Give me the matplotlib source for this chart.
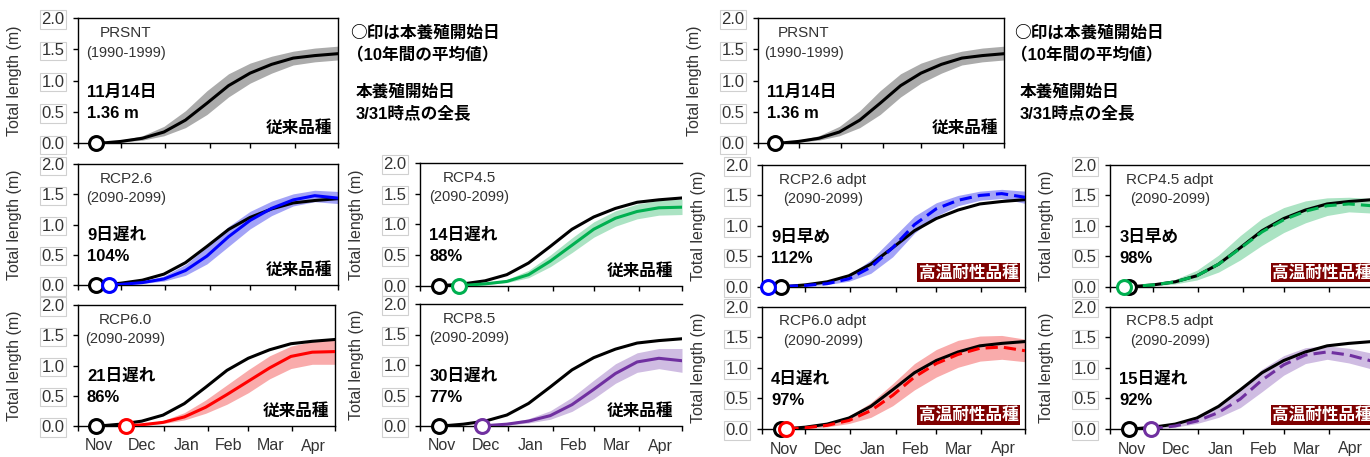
import matplotlib.pyplot as plt

# Fonts: Arial-like for latin, Noto CJK for Japanese
plt.rcParams['font.family'] = ['Liberation Sans', 'Noto Sans CJK JP']

W, H = 1370, 457

# Axis config (x = days from Nov 1)
month_edges = [0, 30, 61, 92, 120, 151, 181]
month_labels = ["Nov", "Dec", "Jan", "Feb", "Mar", "Apr"]
y_ticks = [0.0, 0.5, 1.0, 1.5, 2.0]

# Present climate (1990-1999), conventional variety
prsnt_day = [13, 20, 30, 45, 60, 75, 90, 105, 120, 135, 150, 165, 181]
prsnt_mean = [0.0, 0.01, 0.03, 0.08, 0.18, 0.37, 0.64, 0.92, 1.12, 1.26, 1.36, 1.40, 1.43]
prsnt_hi = [0.0, 0.015, 0.05, 0.12, 0.27, 0.52, 0.84, 1.11, 1.28, 1.39, 1.47, 1.52, 1.55]
prsnt_lo = [0.0, 0.005, 0.02, 0.05, 0.12, 0.25, 0.46, 0.74, 0.96, 1.12, 1.25, 1.30, 1.33]

# Future (2090-2099), conventional variety
rcp26_day = [22, 30, 45, 60, 75, 90, 105, 120, 135, 150, 165, 181]
rcp26_mean = [0.0, 0.01, 0.04, 0.10, 0.24, 0.48, 0.80, 1.07, 1.27, 1.41, 1.48, 1.44]
rcp26_hi = [0.0, 0.015, 0.06, 0.15, 0.34, 0.63, 0.97, 1.22, 1.39, 1.51, 1.57, 1.55]
rcp26_lo = [0.0, 0.005, 0.025, 0.065, 0.16, 0.35, 0.64, 0.93, 1.15, 1.31, 1.38, 1.35]

rcp45_day = [27, 30, 45, 60, 75, 90, 105, 120, 135, 150, 165, 181]
rcp45_mean = [0.0, 0.005, 0.03, 0.07, 0.18, 0.40, 0.66, 0.92, 1.10, 1.21, 1.27, 1.28]
rcp45_hi = [0.0, 0.01, 0.045, 0.10, 0.25, 0.50, 0.78, 1.04, 1.22, 1.33, 1.39, 1.41]
rcp45_lo = [0.0, 0.003, 0.02, 0.05, 0.13, 0.31, 0.54, 0.79, 0.97, 1.09, 1.15, 1.16]

rcp60_day = [34, 45, 60, 75, 90, 105, 120, 135, 150, 165, 181]
rcp60_mean = [0.0, 0.02, 0.06, 0.15, 0.31, 0.52, 0.74, 0.96, 1.15, 1.22, 1.23]
rcp60_hi = [0.0, 0.03, 0.09, 0.22, 0.43, 0.68, 0.93, 1.16, 1.32, 1.40, 1.43]
rcp60_lo = [0.0, 0.01, 0.04, 0.10, 0.21, 0.36, 0.55, 0.78, 0.95, 1.02, 1.02]

rcp85_day = [43, 45, 60, 75, 90, 105, 120, 135, 150, 165, 181]
rcp85_mean = [0.0, 0.005, 0.03, 0.08, 0.17, 0.35, 0.60, 0.86, 1.05, 1.11, 1.07]
rcp85_hi = [0.0, 0.01, 0.05, 0.12, 0.25, 0.47, 0.75, 1.02, 1.20, 1.27, 1.27]
rcp85_lo = [0.0, 0.003, 0.015, 0.05, 0.11, 0.24, 0.45, 0.70, 0.88, 0.94, 0.88]

# Future (2090-2099), heat-tolerant variety
a26_day = [4, 15, 30, 45, 60, 75, 90, 105, 120, 135, 150, 165, 181]
a26_mean = [0.0, 0.005, 0.02, 0.05, 0.13, 0.32, 0.64, 1.02, 1.28, 1.42, 1.50, 1.53, 1.47]
a26_hi = [0.0, 0.008, 0.03, 0.07, 0.19, 0.44, 0.80, 1.16, 1.38, 1.50, 1.57, 1.60, 1.57]
a26_lo = [0.0, 0.003, 0.012, 0.035, 0.09, 0.22, 0.49, 0.88, 1.16, 1.33, 1.42, 1.45, 1.37]

a45_day = [10, 15, 30, 45, 60, 75, 90, 105, 120, 135, 150, 165, 181]
a45_mean = [0.0, 0.005, 0.03, 0.08, 0.18, 0.37, 0.63, 0.90, 1.10, 1.24, 1.33, 1.36, 1.33]
a45_hi = [0.0, 0.01, 0.05, 0.12, 0.27, 0.52, 0.84, 1.12, 1.30, 1.41, 1.46, 1.47, 1.45]
a45_lo = [0.0, 0.003, 0.015, 0.045, 0.11, 0.24, 0.44, 0.68, 0.89, 1.05, 1.17, 1.23, 1.21]

a60_day = [17, 30, 45, 60, 75, 90, 105, 120, 135, 150, 165, 181]
a60_mean = [0.0, 0.02, 0.06, 0.14, 0.30, 0.55, 0.85, 1.07, 1.22, 1.32, 1.34, 1.28]
a60_hi = [0.0, 0.03, 0.09, 0.21, 0.43, 0.74, 1.07, 1.30, 1.45, 1.52, 1.53, 1.47]
a60_lo = [0.0, 0.01, 0.035, 0.09, 0.19, 0.38, 0.64, 0.85, 1.01, 1.11, 1.14, 1.10]

a85_day = [28, 45, 60, 75, 90, 105, 120, 135, 150, 165, 181]
a85_mean = [0.0, 0.05, 0.13, 0.27, 0.49, 0.80, 1.05, 1.21, 1.26, 1.21, 1.11]
a85_hi = [0.0, 0.07, 0.18, 0.37, 0.65, 0.98, 1.20, 1.33, 1.36, 1.32, 1.24]
a85_lo = [0.0, 0.03, 0.09, 0.19, 0.35, 0.61, 0.88, 1.07, 1.14, 1.08, 0.98]

TXT = '#333333'
CONV = "従来品種"
ADPT = "高温耐性品種"

fig = plt.figure(figsize=(W / 100, H / 100), dpi=100)


def px_axes(left, right, top, bottom):
    return fig.add_axes([left / W, 1 - bottom / H, (right - left) / W, (bottom - top) / H])


def circle(ax, d, color, z):
    ax.plot([d], [0], 'o', ms=10, mfc='white', mec=color, mew=2.2, clip_on=False, zorder=z)


def panel(box, title, period, title_x, line1, line2, tag, tag_x,
          series=None, xlabels=False, clipped=False):
    ax = px_axes(*box)
    if series is None:
        ax.fill_between(prsnt_day, prsnt_lo, prsnt_hi, color='#ababab', lw=0)
    else:
        day, mean, lo, hi, col, band, dashed = series
        ax.fill_between(day, lo, hi, color=band, lw=0)
    ax.plot(prsnt_day, prsnt_mean, color='black', lw=2.2, zorder=3)
    circle(ax, prsnt_day[0], 'black', 5)
    if series is not None:
        if dashed:
            ax.plot(day, mean, color=col, lw=2.2, dashes=(4, 2), zorder=4)
        else:
            ax.plot(day, mean, color=col, lw=2.2, zorder=4)
        circle(ax, day[0], col, 6)

    ax.set_xlim(0, 181)
    ax.set_ylim(0, 2.0)
    ax.set_xticks(month_edges)
    ax.set_xticklabels([])
    mids = [(a + b) / 2 for a, b in zip(month_edges[:-1], month_edges[1:])]
    ax.set_xticks(mids, minor=True)
    ax.set_xticklabels(month_labels if xlabels else [], minor=True)
    ax.tick_params(axis='x', which='major', direction='out', length=3.6, width=1)
    ax.tick_params(axis='x', which='minor', length=0, pad=9, labelsize=11.5, labelcolor=TXT)
    ax.set_yticks(y_ticks)
    ax.set_yticklabels([f"{v:.1f}" for v in y_ticks])
    ax.tick_params(axis='y', direction='out', length=3.6, width=1, pad=6,
                   labelsize=12, labelcolor=TXT)
    for lab in ax.get_yticklabels():
        lab.set_bbox(dict(boxstyle='square,pad=0.1', fc='white', ec='#d0d0d0', lw=0.8))
    for sp in ax.spines.values():
        sp.set_linewidth(1.0)
    if clipped:
        ax.spines['right'].set_visible(False)

    ax.set_ylabel("Total length (m)", fontsize=11.5, color=TXT)
    width_px = box[1] - box[0]
    ax.yaxis.set_label_coords(-56 / width_px, 0.5)

    ax.text(title_x, 0.88, title, transform=ax.transAxes, ha='center', va='center',
            fontsize=11, color=TXT)
    ax.text(title_x, 0.72, period, transform=ax.transAxes, ha='center', va='center',
            fontsize=10.5, color=TXT)
    ax.text(0.036, 0.41, line1, transform=ax.transAxes, ha='left', va='center',
            fontsize=12, fontweight='bold')
    ax.text(0.036, 0.235, line2, transform=ax.transAxes, ha='left', va='center',
            fontsize=12, fontweight='bold')
    if tag == ADPT:
        ax.text(tag_x, 0.115, tag, transform=ax.transAxes, ha='right', va='center',
                fontsize=12, fontweight='bold', color='white', zorder=7,
                bbox=dict(boxstyle='square,pad=0.1', fc='#7f0000', ec='none'))
    else:
        ax.text(tag_x, 0.12, tag, transform=ax.transAxes, ha='right', va='center',
                fontsize=12, fontweight='bold', zorder=7)
    return ax


# Left half: conventional variety
panel((77.7, 337.7, 18, 143.3), "PRSNT", "(1990-1999)", 0.186,
      "11月14日", "1.36 m", CONV, 0.978)
panel((77.7, 337.7, 164.3, 285), "RCP2.6", "(2090-2099)", 0.186,
      "9日遅れ", "104%", CONV, 0.978,
      series=(rcp26_day, rcp26_mean, rcp26_lo, rcp26_hi, '#0000ff', '#a3a3f7', False))
panel((77.7, 335, 305, 426), "RCP6.0", "(2090-2099)", 0.186,
      "21日遅れ", "86%", CONV, 0.978,
      series=(rcp60_day, rcp60_mean, rcp60_lo, rcp60_hi, '#ff0000', '#f9abab', False),
      xlabels=True)
panel((420, 682, 163, 285.7), "RCP4.5", "(2090-2099)", 0.187,
      "14日遅れ", "88%", CONV, 0.966,
      series=(rcp45_day, rcp45_mean, rcp45_lo, rcp45_hi, '#00b050', '#abe3c3', False),
      clipped=True)
panel((420, 682, 304, 426), "RCP8.5", "(2090-2099)", 0.187,
      "30日遅れ", "77%", CONV, 0.966,
      series=(rcp85_day, rcp85_mean, rcp85_lo, rcp85_hi, '#7030a0', '#cfbce2', False),
      xlabels=True, clipped=True)

# Right half: heat-tolerant variety
panel((757.7, 1004, 18, 143.3), "PRSNT", "(1990-1999)", 0.186,
      "11月14日", "1.36 m", CONV, 0.978)
panel((761.7, 1025, 165, 286.7), "RCP2.6 adpt", "(2090-2099)", 0.232,
      "9日早め", "112%", ADPT, 0.975,
      series=(a26_day, a26_mean, a26_lo, a26_hi, '#0000ff', '#a3a3f7', True))
panel((761.7, 1025, 306.7, 429), "RCP6.0 adpt", "(2090-2099)", 0.232,
      "4日遅れ", "97%", ADPT, 0.975,
      series=(a60_day, a60_mean, a60_lo, a60_hi, '#ff0000', '#f9abab', True),
      xlabels=True)
panel((1110, 1372, 165, 286.7), "RCP4.5 adpt", "(2090-2099)", 0.229,
      "3日早め", "98%", ADPT, 1.0,
      series=(a45_day, a45_mean, a45_lo, a45_hi, '#00b050', '#abe3c3', True),
      clipped=True)
panel((1110, 1372, 306.7, 429), "RCP8.5 adpt", "(2090-2099)", 0.229,
      "15日遅れ", "92%", ADPT, 1.0,
      series=(a85_day, a85_mean, a85_lo, a85_hi, '#7030a0', '#cfbce2', True),
      xlabels=True, clipped=True)

# Notes beside the PRSNT panels
for x0 in (350, 1014):
    fig.text(x0 / W, 1 - 33 / H, "○印は本養殖開始日", ha='left', va='center',
             fontsize=12, fontweight='bold', family=['Noto Sans CJK JP'])
    fig.text((x0 - 3) / W, 1 - 55 / H, "（10年間の平均値）", ha='left', va='center',
             fontsize=12, fontweight='bold')
    fig.text((x0 + 6) / W, 1 - 92 / H, "本養殖開始日", ha='left', va='center',
             fontsize=12, fontweight='bold')
    fig.text((x0 + 6) / W, 1 - 113 / H, "3/31時点の全長", ha='left', va='center',
             fontsize=12, fontweight='bold')

fig.savefig("out.png", dpi=100)
